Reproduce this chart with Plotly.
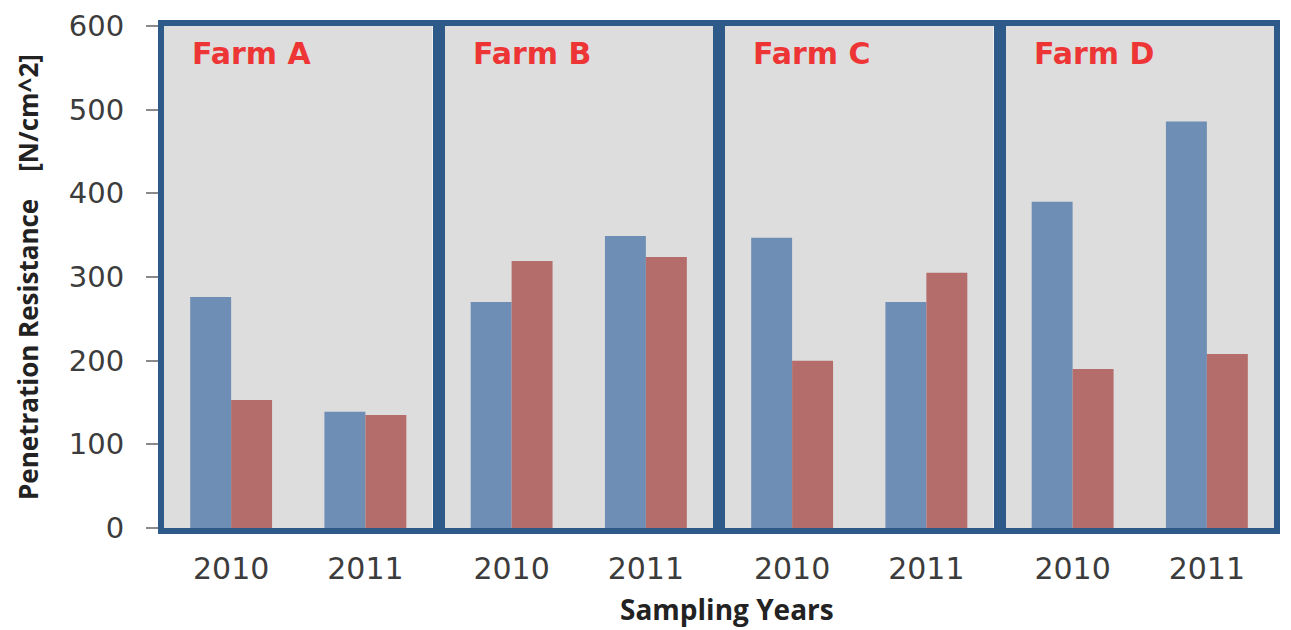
import plotly.graph_objects as go

farms = ["Farm A", "Farm B", "Farm C", "Farm D"]
years = ["2010", "2011"]
series1_values = [[276, 139], [270, 349], [347, 270], [390, 486]]
series2_values = [[153, 135], [319, 324], [200, 305], [190, 208]]
y_ticks = [0, 100, 200, 300, 400, 500, 600]

BLUE = "#6e8eb5"
RED = "#b46d6a"
BORDER = "#2e5a8a"
BG = "#dddddd"
TXT = "#3c3c3c"

# page body has an 8px margin, so the figure is drawn 8px in from the corner
W, H = 1283, 622
ml, mr, mt, mb = 156, 17, 18, 102
pw = W - ml - mr
ph = H - mt - mb
gap = 12
panel_w = (pw - 3 * gap) / 4

fig = go.Figure()
for i, farm in enumerate(farms):
    ax = "" if i == 0 else str(i + 1)
    fig.add_trace(go.Bar(x=years, y=series1_values[i], marker_color=BLUE, name="Series 1",
                         xaxis="x" + ax, yaxis="y" + ax, showlegend=False, marker_line_width=0))
    fig.add_trace(go.Bar(x=years, y=series2_values[i], marker_color=RED, name="Series 2",
                         xaxis="x" + ax, yaxis="y" + ax, showlegend=False, marker_line_width=0))
    start = i * (panel_w + gap) / pw
    end = start + panel_w / pw
    xa = dict(domain=[start, end], anchor="y" + ax, showline=True, mirror=True, linewidth=6,
              linecolor=BORDER, ticks="", showgrid=False, ticklabelstandoff=9, automargin=False,
              tickfont=dict(family="DejaVu Sans", size=30, color=TXT))
    ya = dict(range=[0, 600], anchor="x" + ax, showline=True, mirror=True, linewidth=6,
              linecolor=BORDER, showgrid=False, zeroline=False, tickvals=y_ticks, automargin=False)
    if i == 0:
        ya.update(ticks="outside", ticklen=12, tickcolor="#8a8a8a", tickwidth=2,
                  tickfont=dict(family="DejaVu Sans", size=29, color=TXT), ticklabelstandoff=16)
    else:
        ya.update(showticklabels=False, ticks="", matches="y")
    fig.layout["xaxis" + ax] = xa
    fig.layout["yaxis" + ax] = ya
    fig.add_annotation(text=farm, xref=f"x{ax} domain", yref=f"y{ax} domain", x=0.097, y=0.946,
                       xanchor="left", yanchor="middle", showarrow=False,
                       font=dict(family="DejaVu Sans", size=30, color="#ee3535", weight="bold"))

fig.add_annotation(text="Sampling Years", xref="paper", yref="paper", x=(719 - ml) / pw,
                   y=(520 - 601) / ph, xanchor="center", yanchor="middle", showarrow=False,
                   font=dict(family="Open Sans", size=28, color="#222222", weight="bold"))
fig.add_annotation(text="Penetration Resistance\u00a0\u00a0\u00a0\u00a0[N/cm^2]", xref="paper", yref="paper",
                   x=(20 - ml) / pw, y=0.5, xanchor="center", yanchor="middle", textangle=-90,
                   showarrow=False, font=dict(family="Open Sans", size=26, color="#222222", weight="bold"))

fig.update_layout(width=W, height=H, margin=dict(l=ml, r=mr, t=mt, b=mb, autoexpand=False),
                  plot_bgcolor=BG, paper_bgcolor="white", barmode="group", bargap=0.39, bargroupgap=0,
                  showlegend=False)
fig.write_html("out.html")
